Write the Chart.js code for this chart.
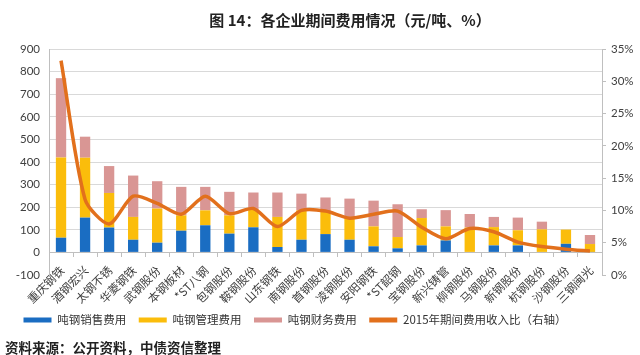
<!DOCTYPE html>
<html>
<head>
<meta charset="utf-8">
<script src="https://cdn.jsdelivr.net/npm/chart.js@4.4.1/dist/chart.umd.min.js"></script>
<style>
  html, body { margin: 0; padding: 0; background: #ffffff; }
  #wrap { position: relative; width: 640px; height: 355px; overflow: hidden; background: #ffffff; }
  #chart { position: absolute; left: 0; top: 0; }
  #title { position: absolute; left: 0; top: 9px; width: 700px; text-align: center;
           font: bold 15px "Noto Sans CJK SC", sans-serif; color: #222; white-space: nowrap; }
  #source { position: absolute; left: 5px; top: 337px;
            font: bold 13.5px "Noto Sans CJK SC", sans-serif; color: #222; white-space: nowrap; }
</style>
</head>
<body>
<div id="wrap">
  <canvas id="chart" width="640" height="355"></canvas>
  <div id="title">图 14：各企业期间费用情况（元/吨、%）</div>
  <div id="source">资料来源：公开资料，中债资信整理</div>
</div>
<script>
const categories = ['重庆钢铁','酒钢宏兴','太钢不锈','华菱钢铁','武钢股份','本钢板材','*ST八钢','包钢股份','鞍钢股份','山东钢铁','南钢股份','首钢股份','凌钢股份','安阳钢铁','*ST韶钢','宝钢股份','新兴铸管','柳钢股份','马钢股份','新钢股份','杭钢股份','沙钢股份','三钢闽光'];
const salesCost = [65,154,110,56,43,96,120,83,111,24,56,81,56,27,18,31,53,0,31,31,0,38,2];
const mgmtCost  = [355,265,153,101,151,68,66,81,80,133,130,98,93,88,50,121,62,110,81,67,102,63,35];
const finCost   = [351,93,119,183,121,126,104,104,74,108,74,64,89,114,145,39,72,60,45,56,34,0,40];
const costRatio = [33.2,11.7,7.9,12.2,11.1,9.4,12.2,9.5,10.3,7.5,10.0,9.9,8.8,9.4,9.9,7.4,5.6,7.2,6.7,5.1,4.4,4.0,3.7];
const seriesNames = ['吨钢销售费用','吨钢管理费用','吨钢财务费用','2015年期间费用收入比（右轴）'];
const leftTicks = { min: -100, max: 900, step: 100 };
const rightTicks = { min: 0, max: 35, step: 5 };

const C_BLUE = '#1a6dc2', C_YELLOW = '#fbbd0b', C_PINK = '#d99694', C_ORANGE = '#e2701c';
const GRID = '#d9d9d9', AXIS = '#bfbfbf';
const FONT = "'Lato','Noto Sans CJK SC',sans-serif";

Chart.defaults.font.family = FONT;

new Chart(document.getElementById('chart'), {
  type: 'bar',
  data: {
    labels: categories,
    datasets: [
      { label: seriesNames[0], data: salesCost, backgroundColor: C_BLUE, stack: 'cost', yAxisID: 'y', barPercentage: 0.43, categoryPercentage: 1, order: 1 },
      { label: seriesNames[1], data: mgmtCost, backgroundColor: C_YELLOW, stack: 'cost', yAxisID: 'y', barPercentage: 0.43, categoryPercentage: 1, order: 1 },
      { label: seriesNames[2], data: finCost, backgroundColor: C_PINK, stack: 'cost', yAxisID: 'y', barPercentage: 0.43, categoryPercentage: 1, order: 1 },
      { type: 'line', label: seriesNames[3], data: costRatio, borderColor: C_ORANGE, backgroundColor: C_ORANGE,
        borderWidth: 3.5, pointRadius: 0, tension: 0.25, fill: false, yAxisID: 'y1', order: 0 }
    ]
  },
  options: {
    responsive: false,
    animation: false,
    devicePixelRatio: 1,
    layout: { padding: { top: 49, left: 11, right: 6, bottom: 19.25 } },
    plugins: {
      tooltip: { enabled: false },
      title: { display: false },
      legend: {
        display: true,
        position: 'bottom',
        align: 'start',
        title: { display: true, text: ' ', padding: { top: 0, bottom: 14.75 }, font: { size: 10 } },
        labels: {
          boxWidth: 28, boxHeight: 5, padding: 12.5,
          color: '#333', font: { size: 11.5, family: "'Noto Sans CJK SC',sans-serif" },
          sort: (a, b) => a.datasetIndex - b.datasetIndex,
          generateLabels: (chart) => {
            const items = Chart.defaults.plugins.legend.labels.generateLabels(chart);
            items.forEach(it => { it.lineWidth = 0; it.strokeStyle = 'rgba(0,0,0,0)'; });
            return items;
          }
        }
      }
    },
    scales: {
      x: {
        type: 'category',
        position: { y: 0 },
        stacked: true,
        grid: { drawOnChartArea: false, drawTicks: true, tickLength: 4, color: AXIS, offset: true },
        border: { display: true, color: AXIS, width: 1 },
        ticks: { minRotation: 45, maxRotation: 45, autoSkip: false, padding: 7, labelOffset: 1, color: '#404040',
                 font: { size: 11.5, family: "'Noto Sans CJK SC',sans-serif" } }
      },
      y: {
        position: 'left',
        stacked: true,
        min: leftTicks.min, max: leftTicks.max,
        afterFit: (s) => { s.width = 38; },
        ticks: { stepSize: leftTicks.step, padding: 9, color: '#404040', font: { size: 11.5 } },
        grid: {
          drawTicks: false,
          color: (ctx) => (ctx.tick && ctx.tick.value === leftTicks.min) ? 'rgba(0,0,0,0)' : GRID,
          lineWidth: 1
        },
        border: { display: true, color: AXIS, width: 1 }
      },
      y1: {
        position: 'right',
        min: rightTicks.min, max: rightTicks.max,
        afterFit: (s) => { s.width = 32; },
        ticks: { stepSize: rightTicks.step, padding: 5, color: '#404040', font: { size: 11.5 },
                 callback: (v) => v + '%' },
        grid: { drawOnChartArea: false, drawTicks: true, tickLength: 4, color: AXIS },
        border: { display: true, color: AXIS, width: 1 }
      }
    }
  }
});
</script>
</body>
</html>
